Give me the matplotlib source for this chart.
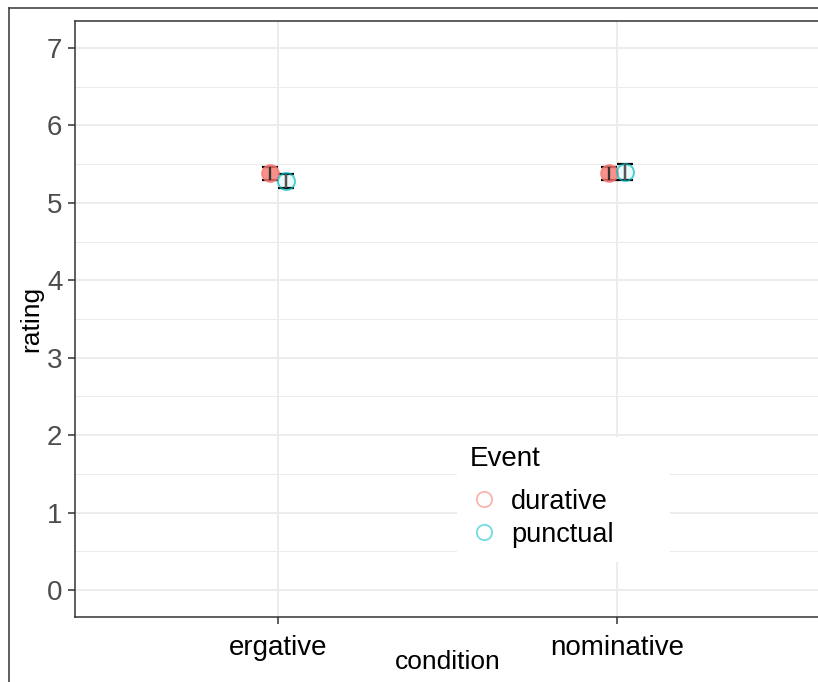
import matplotlib
matplotlib.use("Agg")
import matplotlib.pyplot as plt
from matplotlib.lines import Line2D
from matplotlib.patches import Rectangle
import numpy as np

plt.rcParams['font.family'] = ['Liberation Sans', 'DejaVu Sans']

# Mean ratings and standard errors per condition and event type
conditions = ["ergative", "nominative"]
events = ["durative", "punctual"]
mean_durative = [5.38, 5.38]
mean_punctual = [5.28, 5.40]
se_durative = [0.09, 0.09]
se_punctual = [0.09, 0.10]
y_ticks = [0, 1, 2, 3, 4, 5, 6, 7]

col_dur = "#F8766D"
col_pun = "#00BFC4"
dodge = 0.024

W, H = 818, 682
fig = plt.figure(figsize=(W / 100, H / 100), dpi=100)
fig.patch.set_facecolor("white")

# panel placement (pixels)
left, right, top, bottom = 75, 820, 21, 617
ax = fig.add_axes([left / W, 1 - bottom / H, (right - left) / W, (bottom - top) / H])
ax.set_facecolor("white")

x = np.arange(1, len(conditions) + 1)
ax.set_xlim(0.4, 2.6)
ax.set_ylim(-0.35, 7.35)

# grid
for v in y_ticks:
    ax.axhline(v, color="#EBEBEB", lw=1.3, zorder=0)
for v in np.arange(0.5, 7.5, 1.0):
    ax.axhline(v, color="#EBEBEB", lw=0.7, zorder=0)
for v in x:
    ax.axvline(v, color="#EBEBEB", lw=1.3, zorder=0)

# error bars and points
ax.errorbar(x - dodge, mean_durative, yerr=se_durative, fmt="none",
            ecolor="black", elinewidth=1.6, capsize=6, capthick=1.6, zorder=3)
ax.errorbar(x + dodge, mean_punctual, yerr=se_punctual, fmt="none",
            ecolor="black", elinewidth=1.6, capsize=6, capthick=1.6, zorder=3)
ax.scatter(x - dodge, mean_durative, s=150, facecolor=(0.97, 0.46, 0.43, 0.8),
           edgecolor=(0.97, 0.46, 0.43, 0.8), linewidth=1.2, zorder=4)
ax.scatter(x + dodge, mean_punctual, s=150, facecolor=(0.0, 0.75, 0.77, 0.08),
           edgecolor=(0.0, 0.75, 0.77, 0.7), linewidth=1.4, zorder=4)
# line through the points
ax.vlines(x - dodge, np.array(mean_durative) - np.array(se_durative),
          np.array(mean_durative) + np.array(se_durative), color="#333333", lw=1.6, zorder=5)
ax.vlines(x + dodge, np.array(mean_punctual) - np.array(se_punctual),
          np.array(mean_punctual) + np.array(se_punctual), color="#555555", lw=1.6, zorder=5)

ax.set_xticks(x)
ax.set_xticklabels(conditions, fontsize=20, color="black")
ax.set_yticks(y_ticks)
ax.set_yticklabels([str(v) for v in y_ticks], fontsize=20, color="#4D4D4D")
ax.tick_params(axis="both", length=5, width=1.1, color="#333333", pad=4)
ax.tick_params(axis="x", pad=8)

for s in ["left", "top", "bottom"]:
    ax.spines[s].set_color("#333333")
    ax.spines[s].set_linewidth(1.1)
ax.spines["right"].set_visible(False)

ax.set_xlabel("condition", fontsize=19, labelpad=-8)
ax.set_ylabel("rating", fontsize=19, labelpad=3)

# legend background box
ax.add_patch(Rectangle((457 / W, 1 - 562 / H), (670 - 457) / W, (562 - 437) / H,
                       transform=fig.transFigure, facecolor="white", edgecolor="none",
                       zorder=2, clip_on=False))

# legend
handles = [
    Line2D([], [], marker="o", linestyle="none", markersize=11,
           markerfacecolor="none", markeredgecolor=(0.97, 0.46, 0.43, 0.55), markeredgewidth=1.3),
    Line2D([], [], marker="o", linestyle="none", markersize=11,
           markerfacecolor="none", markeredgecolor=(0.0, 0.75, 0.77, 0.55), markeredgewidth=1.3),
]
leg = ax.legend(handles, events, title="Event", loc="upper left",
                bbox_to_anchor=(462 / W, 1 - 438 / H), bbox_transform=fig.transFigure,
                fontsize=19.5, title_fontsize=20, frameon=False,
                borderpad=0.3, labelspacing=0.25, handletextpad=0.5,
                handlelength=1.0, borderaxespad=0)
leg._legend_box.align = "left"
leg._legend_box.sep = 12

# outer plot border
fig.add_artist(Line2D([9 / W, 9 / W], [0, 1 - 8 / H], transform=fig.transFigure,
                      color="#444444", lw=1.2))
fig.add_artist(Line2D([9 / W, 1], [1 - 8 / H, 1 - 8 / H], transform=fig.transFigure,
                      color="#444444", lw=1.2))

fig.savefig("out.png", dpi=100, facecolor="white")
